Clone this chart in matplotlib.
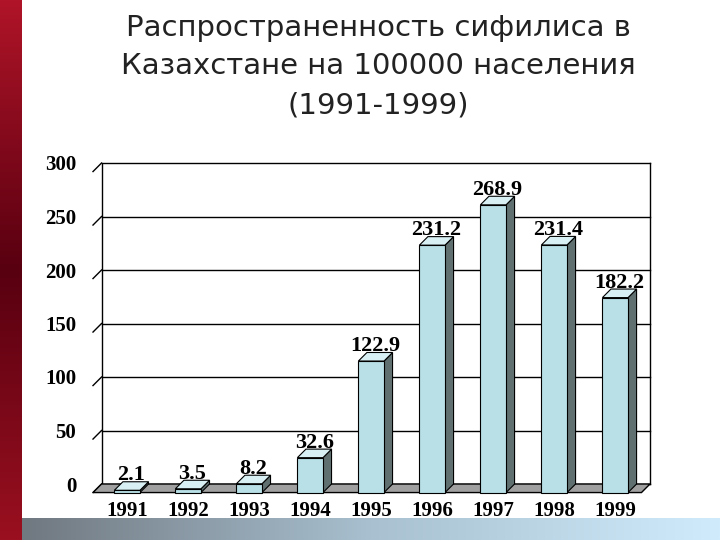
import numpy as np
import matplotlib
matplotlib.use("Agg")
import matplotlib.pyplot as plt
from matplotlib.patches import Polygon
from matplotlib.colors import LinearSegmentedColormap

years = ["1991", "1992", "1993", "1994", "1995", "1996", "1997", "1998", "1999"]
values = [2.1, 3.5, 8.2, 32.6, 122.9, 231.2, 268.9, 231.4, 182.2]
yticks = [0, 50, 100, 150, 200, 250, 300]
title = "Распространенность сифилиса в\nКазахстане на 100000 населения\n(1991-1999)"

fig = plt.figure(figsize=(7.2, 5.4), dpi=100)
fig.patch.set_facecolor("white")

grad = np.linspace(0, 1, 256).reshape(-1, 1)
axl = fig.add_axes([0, 0, 22/720, 1])
cm_red = LinearSegmentedColormap.from_list("r", ["#b01428", "#580010", "#9a1020"])
axl.imshow(grad, aspect="auto", cmap=cm_red)
axl.axis("off")
axb = fig.add_axes([22/720, 0, 698/720, 22/540])
cm_b = LinearSegmentedColormap.from_list("b", ["#707880", "#a8c0d0", "#d0ecfc"])
axb.imshow(grad.T, aspect="auto", cmap=cm_b)
axb.axis("off")

fig.text(0.525, 0.975, title, ha="center", va="top", fontsize=21,
         family="DejaVu Sans", color="#222222", linespacing=1.5)

ax = fig.add_axes([93/720, 56/540, 557/720, 321/540])
ax.set_xlim(-0.56, 8.57)
ax.set_ylim(0, 300)
x = np.arange(len(years))
w = 0.42
dx, dy = 0.14, 8.0
x0 = -0.56

# back wall: gridlines at tick values, slanted ticks from the front axis
for t in yticks:
    ax.plot([x0 + dx, 8.57], [t, t], color="black", lw=1, zorder=1, clip_on=False)
    ax.plot([x0, x0 + dx], [t - dy, t], color="black", lw=1, zorder=1, clip_on=False)
ax.plot([x0 + dx, x0 + dx], [0, 300], color="black", lw=1, zorder=1)
ax.plot([8.57, 8.57], [0, 300], color="black", lw=1, zorder=1, clip_on=False)
# floor
ax.add_patch(Polygon([[x0, -dy], [8.57 - dx, -dy], [8.57, 0], [x0 + dx, 0]],
                     closed=True, facecolor="#a0a0a0", edgecolor="black", lw=1,
                     zorder=2, clip_on=False))

for xi, v in zip(x, values):
    l, r = xi - w/2, xi + w/2
    b = -dy
    ax.add_patch(Polygon([[r, b], [r + dx, 0], [r + dx, v], [r, v - dy]],
                         facecolor="#607070", edgecolor="black", lw=0.8, zorder=3, clip_on=False))
    ax.add_patch(Polygon([[l, v - dy], [l + dx, v], [r + dx, v], [r, v - dy]],
                         facecolor="#d8f0f4", edgecolor="black", lw=0.8, zorder=3, clip_on=False))
    ax.bar(xi, v, bottom=b, width=w, color="#b8e0e6", edgecolor="black", lw=0.8,
           zorder=4, clip_on=False)
    ax.text(xi + dx/2, v + 6, f"{v:.1f}", ha="center", va="center", fontsize=16,
            fontweight="bold", family="Liberation Serif", zorder=5)

ax.set_yticks(yticks)
ax.set_yticklabels([str(t) for t in yticks], fontsize=15, fontweight="bold", family="Liberation Serif")
ax.set_xticks(x)
ax.set_xticklabels(years, fontsize=15, fontweight="bold", family="Liberation Serif")
ax.tick_params(axis="y", length=0, pad=12)
ax.tick_params(axis="x", length=0, pad=12)
for s in ["top", "right", "bottom", "left"]:
    ax.spines[s].set_visible(False)
ax.patch.set_alpha(0)

fig.savefig("out.png", dpi=100)
